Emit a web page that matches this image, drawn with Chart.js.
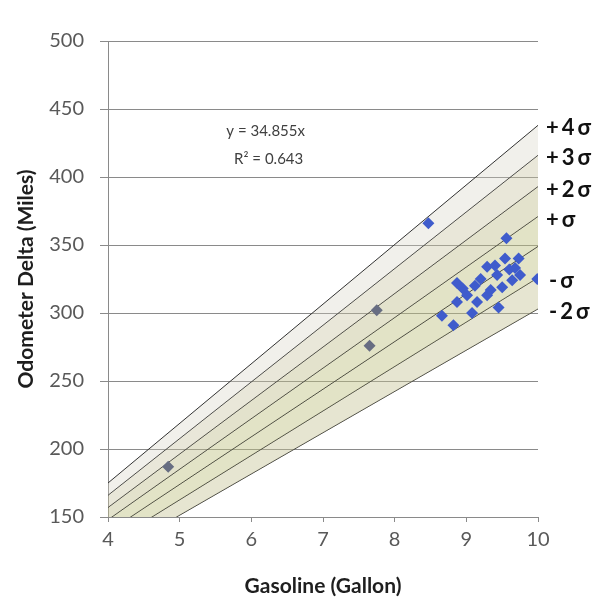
<!DOCTYPE html>
<html>
<head>
<meta charset="utf-8">
<script src="https://cdn.jsdelivr.net/npm/chart.js@4.4.1/dist/chart.umd.min.js"></script>
<style>
  html, body { margin: 0; padding: 0; background: #fff; }
  #wrap { width: 592px; height: 604px; }
</style>
</head>
<body>
<div id="wrap"><canvas id="fuelChart" width="592" height="604"></canvas></div>
<script>
// --- fill-up readings: gallons pumped vs miles on the odometer since last fill ---
const gallons = [4.84, 7.65, 7.75, 8.47, 8.66, 8.82, 8.87, 8.87, 8.95, 9.01, 9.08, 9.12, 9.15, 9.20,
                 9.29, 9.29, 9.34, 9.40, 9.43, 9.45, 9.50, 9.54, 9.56, 9.60, 9.64, 9.68, 9.73, 9.75, 9.99];
const miles   = [187, 276, 302, 366, 298, 291, 322, 308, 318, 313, 300, 320, 308, 325,
                 334, 313, 317, 335, 328, 304, 319, 340, 355, 332, 324, 333, 340, 328, 325];

const bandNames = ['+4σ', '+3σ', '+2σ', '+σ', '', '-σ', '-2σ'];
const bandAtStart = [175, 166, 157, 148, 139, 130, 121];   // y at x = 4
const bandAtEnd   = [438, 416, 393, 371, 349, 326, 303];   // y at x = 10
const bandX = [4, 10];

// --- axis ticks ---
const xTickValues = [4, 5, 6, 7, 8, 9, 10];
const yTickValues = [150, 200, 250, 300, 350, 400, 450, 500];

// regression annotation
const fitLines = ['y = 34.855x', 'R² = 0.643'];

// band shading, top band first
const bandFills = [
    'rgba(210, 208, 192, 0.32)',
    'rgba(200, 196, 160, 0.40)',
    'rgba(192, 190, 140, 0.44)',
    'rgba(192, 194, 130, 0.46)',
    'rgba(192, 194, 130, 0.46)',
    'rgba(195, 194, 145, 0.42)'
];

const GRID = '#8a8a8a';

const points = gallons.map((g, i) => ({ x: g, y: miles[i] }));

const datasets = [{
    type: 'scatter',
    label: 'Fill-ups',
    data: points,
    pointStyle: 'rectRot',
    pointRadius: 6,
    backgroundColor: (c) => (c.raw && c.raw.x < 8 ? '#676d82' : '#3f5ccc'),
    borderColor: (c) => (c.raw && c.raw.x < 8 ? '#676d82' : '#3f5ccc'),
    borderWidth: 0
}];

bandNames.forEach((name, i) => {
    datasets.push({
        type: 'line',
        label: name || 'fit',
        data: [{ x: bandX[0], y: bandAtStart[i] }, { x: bandX[1], y: bandAtEnd[i] }],
        borderColor: '#333',
        borderWidth: 1,
        pointRadius: 0,
        tension: 0,
        fill: i < bandNames.length - 1 ? '+1' : false,
        backgroundColor: bandFills[i] || 'transparent'
    });
});

// draws the regression text and the sigma tags at the right edge
const annotate = {
    id: 'annotate',
    afterDatasetsDraw(chart) {
        const { ctx, chartArea, scales } = chart;
        ctx.save();
        ctx.fillStyle = '#404040';
        ctx.font = '15px Lato';
        ctx.textAlign = 'center';
        ctx.textBaseline = 'middle';
        const ex = scales.x.getPixelForValue(6.2);
        ctx.fillText(fitLines[0], ex, scales.y.getPixelForValue(434));
        ctx.fillText(fitLines[1], ex + 3, scales.y.getPixelForValue(413));

        ctx.fillStyle = '#111';
        ctx.font = 'bold 22px Lato';
        ctx.textAlign = 'left';
        ctx.letterSpacing = '3px';
        bandNames.forEach((name, i) => {
            if (!name) return;
            const y = scales.y.getPixelForValue(bandAtEnd[i]) + 3;
            const dx = name.startsWith('-') ? 11 : 8;
            ctx.fillText(name, chartArea.right + dx, y);
        });
        ctx.restore();
    }
};

new Chart(document.getElementById('fuelChart'), {
    type: 'scatter',
    data: { datasets: datasets },
    options: {
        responsive: false,
        devicePixelRatio: 1,
        animation: false,
        layout: { padding: { left: 0, right: 54, top: 41, bottom: 0 } },
        plugins: {
            legend: { display: false },
            tooltip: { enabled: false }
        },
        scales: {
            x: {
                type: 'linear',
                min: 4,
                max: 10,
                afterBuildTicks: (s) => { s.ticks = xTickValues.map(v => ({ value: v })); },
                afterFit: (s) => { s.height = 87; },
                grid: { drawOnChartArea: false, drawTicks: true, tickLength: 5, color: GRID },
                border: { display: true, color: GRID },
                ticks: { color: '#595959', font: { family: 'Lato', size: 20 }, padding: 6 },
                title: {
                    display: true,
                    text: 'Gasoline (Gallon)',
                    color: '#1e1e1e',
                    font: { family: 'Lato', size: 21, weight: 'bold' },
                    padding: { bottom: 5 }
                }
            },
            y: {
                type: 'linear',
                min: 150,
                max: 500,
                afterBuildTicks: (s) => { s.ticks = yTickValues.map(v => ({ value: v })); },
                afterFit: (s) => { s.width = 108; },
                grid: { color: GRID, tickLength: 8 },
                border: { display: true, color: GRID },
                ticks: { color: '#595959', font: { family: 'Lato', size: 20 }, padding: 16 },
                title: {
                    display: true,
                    text: 'Odometer Delta (Miles)',
                    color: '#1e1e1e',
                    font: { family: 'Lato', size: 21, weight: 'bold' },
                    padding: { top: 14 }
                }
            }
        }
    },
    plugins: [annotate]
});
</script>
</body>
</html>
